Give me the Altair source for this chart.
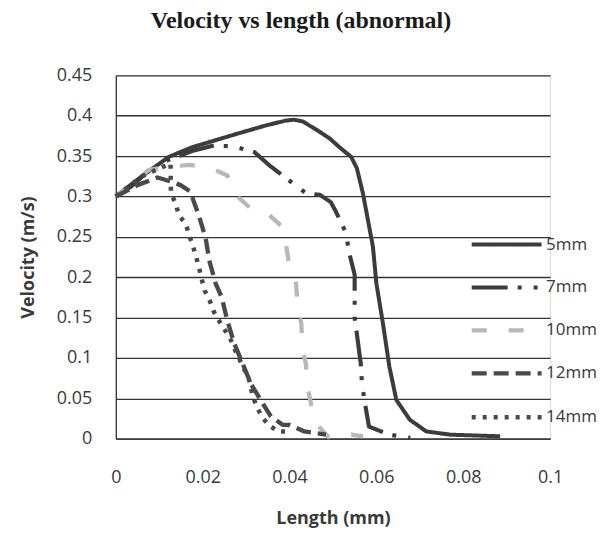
import altair as alt
import pandas as pd

series_names = ["5mm", "7mm", "10mm", "12mm", "14mm"]

x_5mm = [0, 0.0035, 0.0069, 0.0122, 0.0176, 0.0269, 0.0346, 0.0392, 0.0410, 0.0430, 0.0461,
         0.0492, 0.0515, 0.0542, 0.0555, 0.0569, 0.0592, 0.0600, 0.0615, 0.0630, 0.0646,
         0.0677, 0.0715, 0.0770, 0.0885]
y_5mm = [0.300, 0.312, 0.3285, 0.349, 0.361, 0.376, 0.388, 0.394, 0.395, 0.393, 0.383,
         0.372, 0.361, 0.349, 0.335, 0.304, 0.238, 0.1925, 0.143, 0.089, 0.048,
         0.0235, 0.009, 0.005, 0.003]

x_7mm = [0, 0.006, 0.012, 0.018, 0.0226, 0.027, 0.0319, 0.0356, 0.0396, 0.0438, 0.047,
         0.0495, 0.0507, 0.0529, 0.0538, 0.055, 0.055, 0.0557, 0.0564, 0.0567, 0.0575,
         0.0583, 0.063, 0.0678]
y_7mm = [0.300, 0.325, 0.345, 0.357, 0.363, 0.362, 0.355, 0.3375, 0.321, 0.304, 0.302,
         0.293, 0.281, 0.256, 0.229, 0.203, 0.150, 0.122, 0.0935, 0.0667, 0.040,
         0.015, 0.005, 0.001]

x_10mm = [0, 0.0076, 0.0122, 0.0172, 0.0215, 0.0257, 0.0276, 0.0311, 0.0353, 0.0384, 0.0392,
          0.0400, 0.0415, 0.0419, 0.0427, 0.0430, 0.0438, 0.0441, 0.0450, 0.0464, 0.0490,
          0.0542, 0.0569]
y_10mm = [0.300, 0.333, 0.337, 0.339, 0.336, 0.326, 0.302, 0.285, 0.277, 0.262, 0.240,
          0.213, 0.192, 0.163, 0.143, 0.114, 0.091, 0.065, 0.042, 0.017, 0.002,
          0.005, 0.003]

x_12mm = [0, 0.005, 0.0096, 0.013, 0.0149, 0.0172, 0.018, 0.0192, 0.0207, 0.0215, 0.023,
          0.0244, 0.0256, 0.0272, 0.0292, 0.0311, 0.0338, 0.0357, 0.0384, 0.0400, 0.0434,
          0.0484]
y_12mm = [0.300, 0.314, 0.3235, 0.318, 0.314, 0.306, 0.293, 0.275, 0.248, 0.221, 0.192,
          0.175, 0.148, 0.119, 0.093, 0.068, 0.044, 0.0276, 0.0173, 0.017, 0.009,
          0.005]

x_14mm = [0, 0.006, 0.0126, 0.0127, 0.0138, 0.0145, 0.0161, 0.0169, 0.0178, 0.0185, 0.0192,
          0.0198, 0.0205, 0.0217, 0.0226, 0.024, 0.0253, 0.0265, 0.0276, 0.0291, 0.0307,
          0.0315, 0.0324, 0.0336, 0.0351, 0.0374, 0.040]
y_14mm = [0.300, 0.325, 0.341, 0.304, 0.291, 0.277, 0.266, 0.252, 0.238, 0.225, 0.211,
          0.197, 0.183, 0.170, 0.157, 0.144, 0.133, 0.122, 0.108, 0.0915, 0.073,
          0.0535, 0.040, 0.0276, 0.0173, 0.009, 0.009]

x_ticks = [0, 0.02, 0.04, 0.06, 0.08, 0.1]
y_ticks = [0, 0.05, 0.1, 0.15, 0.2, 0.25, 0.3, 0.35, 0.4, 0.45]

series_x = [x_5mm, x_7mm, x_10mm, x_12mm, x_14mm]
series_y = [y_5mm, y_7mm, y_10mm, y_12mm, y_14mm]

rows = []
for name, xs, ys in zip(series_names, series_x, series_y):
    for i, (xv, yv) in enumerate(zip(xs, ys)):
        rows.append({"series": name, "idx": i, "length": xv, "velocity": yv})
df = pd.DataFrame(rows)

colors = ["#3c3c3c", "#3c3c3c", "#b8b8b8", "#4a4a4a", "#4a4a4a"]
dashes = [[1, 0], [36, 10, 4, 12, 4, 10], [15, 22], [15, 7], [4, 7]]
widths = [4, 4.5, 2.5, 4.5, 3.5]

text_color = "#3a3a3a"

chart = alt.Chart(df).mark_line(strokeJoin="round").encode(
    x=alt.X("length:Q",
            scale=alt.Scale(domain=[0, 0.1], nice=False),
            axis=alt.Axis(values=x_ticks, format=".2~f", title="Length (mm)",
                          grid=False, ticks=False, domain=True, domainColor="#333333",
                          domainWidth=1.3, labelPadding=30, titlePadding=23,
                          labelFontSize=18, labelFont="Open Sans", labelColor=text_color,
                          titleFontSize=18, titleFont="Open Sans", titleFontWeight="bold",
                          titleColor=text_color, labelFlush=False)),
    y=alt.Y("velocity:Q",
            scale=alt.Scale(domain=[0, 0.45], nice=False),
            axis=alt.Axis(values=y_ticks, format=".2~f", title="Velocity (m/s)",
                          grid=True, gridColor="#333333", gridWidth=1.3, gridOpacity=1,
                          ticks=False, domain=True, domainColor="#333333", domainWidth=1.3,
                          labelPadding=24, titlePadding=19,
                          labelFontSize=18, labelFont="Open Sans", labelColor=text_color,
                          titleFontSize=18, titleFont="Open Sans", titleFontWeight="bold",
                          titleColor=text_color)),
    color=alt.Color("series:N",
                    scale=alt.Scale(domain=series_names, range=colors),
                    sort=series_names,
                    legend=alt.Legend(title=None, orient="none", legendX=383, legendY=161,
                                      symbolType="M-7,0H7", symbolSize=100,
                                      symbolStrokeWidth=3.5, labelOffset=31,
                                      labelFontSize=17, labelFont="Open Sans",
                                      labelColor=text_color, rowPadding=25, padding=0)),
    strokeDash=alt.StrokeDash("series:N",
                              scale=alt.Scale(domain=series_names, range=dashes),
                              sort=series_names, legend=alt.Legend(title=None)),
    strokeWidth=alt.StrokeWidth("series:N",
                                scale=alt.Scale(domain=series_names, range=widths),
                                legend=None),
    order=alt.Order("idx:Q"),
).properties(
    width=435,
    height=364,
    padding={"left": 11, "top": 1, "right": 0, "bottom": 0},
    title=alt.TitleParams("Velocity vs length (abnormal)", font="Liberation Serif",
                          fontSize=24, fontWeight="bold", color="#1a1a1a",
                          anchor="middle", offset=33, dx=-32),
).configure_view(stroke=None).configure(background="white")

chart.save("out.html", embed_options={"renderer": "svg", "actions": False})
